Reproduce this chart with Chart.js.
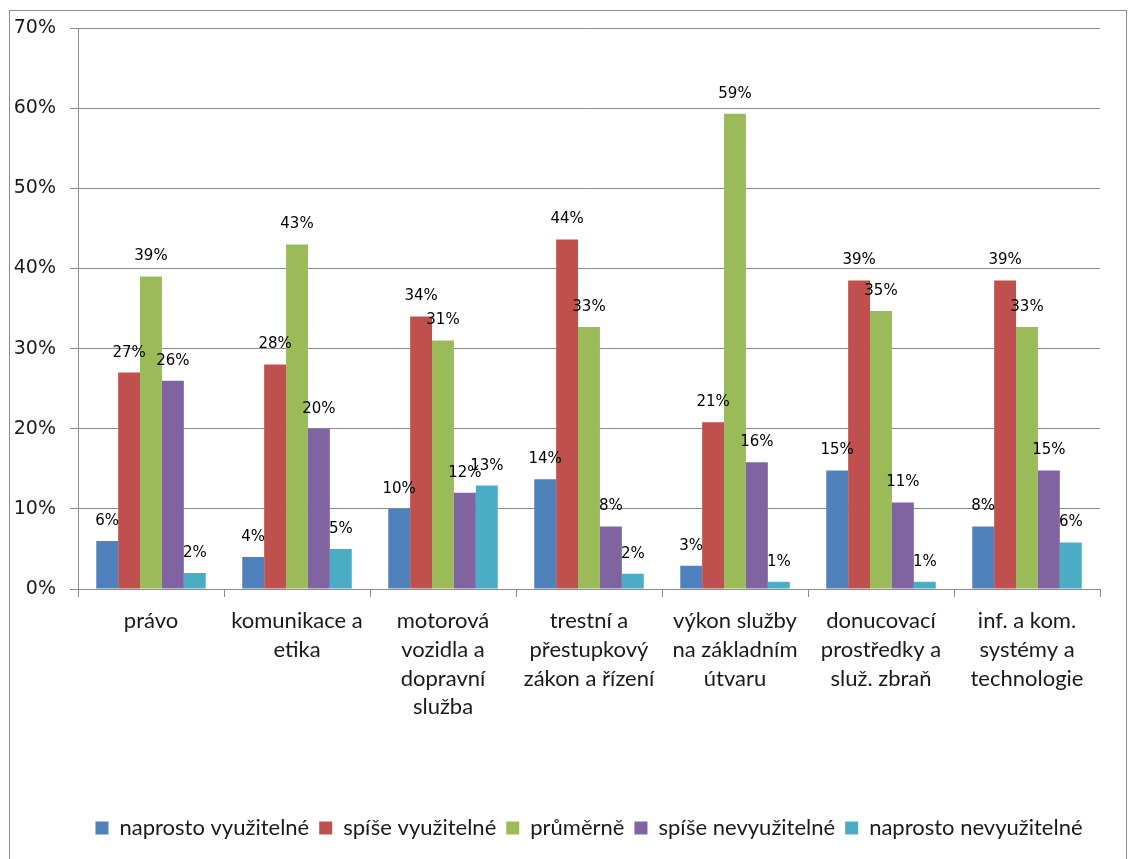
<!DOCTYPE html>
<html>
<head>
<meta charset="utf-8">
<script src="https://cdn.jsdelivr.net/npm/chart.js@4"></script>
<style>
  body { margin: 0; background: #fff; }
  #chart { display: block; }
</style>
</head>
<body>
<canvas id="chart" width="1130" height="859"></canvas>
<script>
// categories (multi-line labels)
const categories = [
    ['právo'],
    ['komunikace a', 'etika'],
    ['motorová', 'vozidla a', 'dopravní', 'služba'],
    ['trestní a', 'přestupkový', 'zákon a řízení'],
    ['výkon služby', 'na základním', 'útvaru'],
    ['donucovací', 'prostředky a', 'služ. zbraň'],
    ['inf. a kom.', 'systémy a', 'technologie']
];

// series values in percent
const naprostoVyuzitelne = [6, 4, 10, 13.7, 2.9, 14.8, 7.8];
const spiseVyuzitelne    = [27, 28, 34, 43.6, 20.8, 38.5, 38.5];
const prumerne           = [39, 43, 31, 32.7, 59.3, 34.7, 32.7];
const spiseNevyuzitelne  = [26, 20, 12, 7.8, 15.8, 10.8, 14.8];
const naprostoNevyuz     = [2, 5, 12.9, 1.9, 0.9, 0.9, 5.8];

const seriesNames = ['naprosto využitelné', 'spíše využitelné', 'průměrně', 'spíše nevyužitelné', 'naprosto nevyužitelné'];
const seriesColors = ['#4F81BD', '#C0504D', '#9BBB59', '#8064A2', '#4BACC6'];

const yTicks = [0, 10, 20, 30, 40, 50, 60, 70];

const allSeries = [naprostoVyuzitelne, spiseVyuzitelne, prumerne, spiseNevyuzitelne, naprostoNevyuz];

// value labels above bars
const valueLabels = {
    id: 'valueLabels',
    afterDatasetsDraw(chart) {
        const ctx = chart.ctx;
        ctx.save();
        ctx.font = '15px "DejaVu Sans"';
        ctx.fillStyle = '#000';
        ctx.textAlign = 'center';
        ctx.textBaseline = 'middle';
        chart.data.datasets.forEach((ds, i) => {
            const meta = chart.getDatasetMeta(i);
            meta.data.forEach((bar, j) => {
                ctx.fillText(Math.round(ds.data[j]) + '%', bar.x, bar.y - 20);
            });
        });
        ctx.restore();
    }
};

// outer frame like the office chart border
const frame = {
    id: 'frame',
    beforeDraw(chart) {
        const ctx = chart.ctx;
        ctx.save();
        ctx.fillStyle = '#fff';
        ctx.fillRect(0, 0, chart.width, chart.height);
        ctx.strokeStyle = '#8c8c8c';
        ctx.lineWidth = 1;
        ctx.strokeRect(9.5, 10.5, 1117, 870);
        ctx.restore();
    }
};

const ctx = document.getElementById('chart').getContext('2d');
new Chart(ctx, {
    type: 'bar',
    data: {
        labels: categories,
        datasets: allSeries.map((vals, i) => ({
            label: seriesNames[i],
            data: vals,
            backgroundColor: seriesColors[i],
            borderWidth: 0,
            barPercentage: 1.0,
            categoryPercentage: 0.75
        }))
    },
    options: {
        responsive: false,
        animation: false,
        layout: { padding: { top: 28, left: 9, right: 30, bottom: 10 } },
        plugins: {
            legend: {
                position: 'bottom',
                fullSize: false,
                labels: {
                    boxWidth: 13,
                    boxHeight: 13,
                    padding: 10,
                    color: '#1a1a1a',
                    font: { family: 'Lato', size: 22 }
                }
            },
            tooltip: { enabled: false }
        },
        scales: {
            x: {
                grid: { display: true, drawOnChartArea: false, offset: true, tickLength: 8, color: '#8c8c8c' },
                border: { color: '#8c8c8c' },
                ticks: {
                    color: '#1a1a1a',
                    padding: 10,
                    maxRotation: 0,
                    autoSkip: false,
                    font: { family: 'Lato', size: 22, lineHeight: 1.3 }
                },
                afterFit(scale) { scale.height = 218; }
            },
            y: {
                min: 0,
                max: 70,
                afterBuildTicks(scale) { scale.ticks = yTicks.map(v => ({ value: v })); },
                grid: { color: '#8c8c8c', tickLength: 8 },
                border: { color: '#8c8c8c' },
                ticks: {
                    color: '#1a1a1a',
                    padding: 14,
                    font: { family: 'DejaVu Sans', size: 19 },
                    callback: v => v + '%'
                },
                afterFit(scale) { scale.width = 69; }
            }
        }
    },
    plugins: [frame, valueLabels]
});
</script>
</body>
</html>
